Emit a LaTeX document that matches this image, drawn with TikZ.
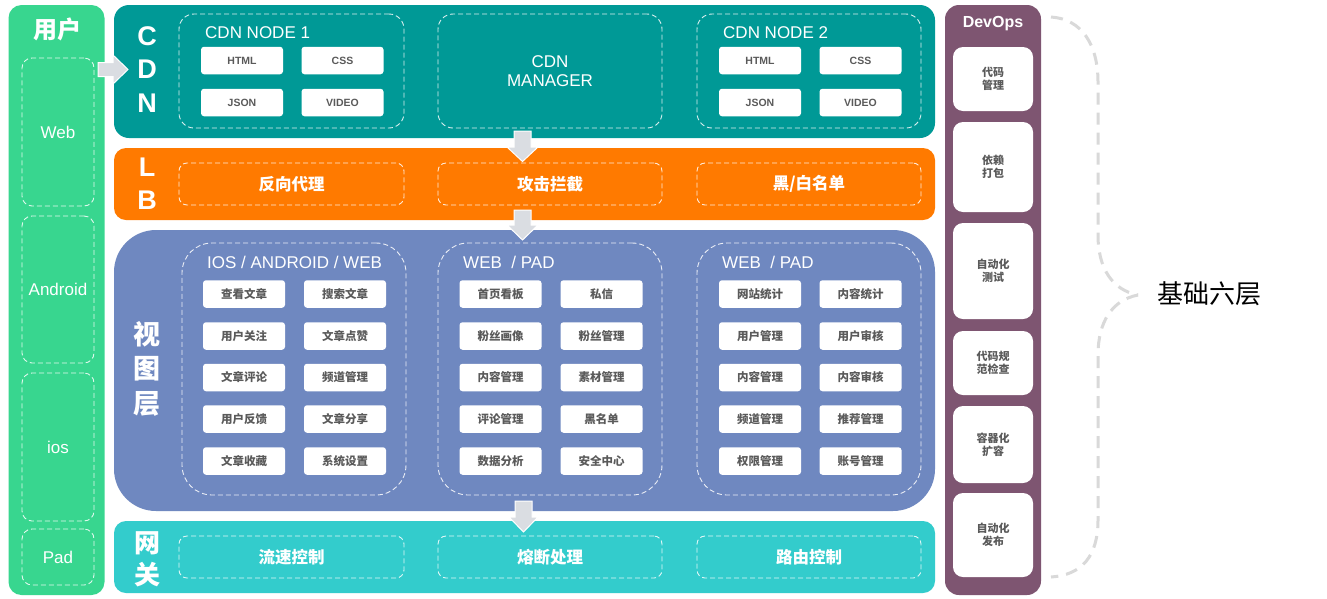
\documentclass[tikz,border=0pt]{standalone}
\usepackage{fontspec}
\setmainfont{Liberation Sans}
\newfontfamily\cjk{Noto Sans CJK SC}
\definecolor{ugreen}{HTML}{38D68F}
\definecolor{cdnteal}{HTML}{009996}
\definecolor{lborange}{HTML}{FF7A00}
\definecolor{viewblue}{HTML}{6F88C0}
\definecolor{gwcyan}{HTML}{33CCCC}
\definecolor{devpurple}{HTML}{7E5571}
\definecolor{arrowgray}{HTML}{DADDE2}
\definecolor{itemgray}{HTML}{5A5A5A}
\definecolor{bracegray}{HTML}{D9D9D9}
\tikzset{
  panel/.style={draw=none, inner sep=0pt},
  dbox/.style={draw=white, draw opacity=0.85, line width=0.9pt, dash pattern=on 5pt off 3pt, inner sep=0pt},
  item/.style={fill=white, rounded corners=3pt, inner sep=0pt, minimum width=82pt, minimum height=27.5pt, text=itemgray},
  cdnitem/.style={item, font=\bfseries\fontsize{10.5}{12}\selectfont},
  viewitem/.style={item, font=\cjk\bfseries\fontsize{11.5}{13}\selectfont},
  devitem/.style={fill=white, rounded corners=10pt, inner sep=0pt, minimum width=80pt, text=itemgray, align=center, font=\cjk\bfseries\fontsize{11}{13}\selectfont},
  bigletter/.style={text=white, inner sep=0pt, font=\bfseries\fontsize{27}{27}\selectfont},
  bigcjk/.style={text=white, inner sep=0pt, font=\cjk\bfseries\fontsize{27}{27}\selectfont},
  grouptitle/.style={text=white, inner sep=0pt, anchor=west, font=\fontsize{17}{20}\selectfont},
  layertext/.style={text=white, font=\cjk\bfseries\fontsize{16.5}{18}\selectfont},
  usertext/.style={text=white, font=\fontsize{17}{20}\selectfont},
  barrow/.style={fill=arrowgray, draw=white, line width=1pt},
  bracestyle/.style={draw=bracegray, line width=3pt, dash pattern=on 12pt off 8pt}
}
\begin{document}
\begin{tikzpicture}[x=1pt, y=-1pt]
\useasboundingbox (0,0) rectangle (1327,598);
\fill[white] (0,0) rectangle (1327,598);

% ---------- user column ----------
\node[panel, fill=ugreen, rounded corners=13pt, minimum width=96pt, minimum height=590pt] (user) at (56.5,300) {};
\node[text=white, inner sep=0pt, font=\cjk\bfseries\fontsize{24}{24}\selectfont] (usert) at (57,29) {用户};
\node[dbox, rounded corners=10pt, minimum width=72pt, minimum height=148pt, usertext] (web) at (58,132) {Web};
\node[dbox, rounded corners=10pt, minimum width=72pt, minimum height=147pt, usertext] (android) at (58,289.5) {Android};
\node[dbox, rounded corners=10pt, minimum width=72pt, minimum height=148pt, usertext] (ios) at (58,447) {ios};
\node[dbox, rounded corners=10pt, minimum width=72pt, minimum height=56pt, usertext] (pad) at (58,557) {Pad};

% ---------- CDN ----------
\node[panel, fill=cdnteal, rounded corners=15pt, minimum width=821pt, minimum height=133pt] (cdn) at (524.5,71.5) {};
\node[bigletter] (cdnC) at (147,36) {C};
\node[bigletter] (cdnD) at (147,69.5) {D};
\node[bigletter] (cdnN) at (147,103) {N};
\node[dbox, rounded corners=15pt, minimum width=225pt, minimum height=114pt] (node1) at (291.5,71) {};
\node[grouptitle] (node1t) at (205,33) {CDN NODE 1};
\node[cdnitem] (html1) at (242,60.5) {HTML};
\node[cdnitem] (css1) at (342.5,60.5) {CSS};
\node[cdnitem] (json1) at (242,102.5) {JSON};
\node[cdnitem] (video1) at (342.5,102.5) {VIDEO};
\node[dbox, rounded corners=15pt, minimum width=224pt, minimum height=114pt, text=white, align=center, font=\fontsize{17}{19}\selectfont] (manager) at (550,71) {CDN\\MANAGER};
\node[dbox, rounded corners=15pt, minimum width=224pt, minimum height=114pt] (node2) at (809,71) {};
\node[grouptitle] (node2t) at (723,33) {CDN NODE 2};
\node[cdnitem] (html2) at (760,60.5) {HTML};
\node[cdnitem] (css2) at (860.5,60.5) {CSS};
\node[cdnitem] (json2) at (760,102.5) {JSON};
\node[cdnitem] (video2) at (860.5,102.5) {VIDEO};

% ---------- LB ----------
\node[panel, fill=lborange, rounded corners=12pt, minimum width=821pt, minimum height=72pt] (lb) at (524.5,184) {};
\node[bigletter] (lbL) at (147,167) {L};
\node[bigletter] (lbB) at (147,200.5) {B};
\node[dbox, rounded corners=8pt, minimum width=225pt, minimum height=42pt, layertext] (proxy) at (291.5,184) {反向代理};
\node[dbox, rounded corners=8pt, minimum width=224pt, minimum height=42pt, layertext] (attack) at (550,184) {攻击拦截};
\node[dbox, rounded corners=8pt, minimum width=224pt, minimum height=42pt, layertext] (blacklist) at (809,184) {黑/白名单};

% ---------- view layer ----------
\node[panel, fill=viewblue, rounded corners=42pt, minimum width=821pt, minimum height=281pt] (view) at (524.5,370.5) {};
\node[bigcjk] (v1) at (147,334) {视};
\node[bigcjk] (v2) at (147,369) {图};
\node[bigcjk] (v3) at (147,403.5) {层};
\node[dbox, rounded corners=30pt, minimum width=224pt, minimum height=252pt] (g1) at (294,369) {};
\node[dbox, rounded corners=30pt, minimum width=224pt, minimum height=252pt] (g2) at (550,369) {};
\node[dbox, rounded corners=30pt, minimum width=224pt, minimum height=252pt] (g3) at (809,369) {};
\node[grouptitle] (g1t) at (207,262) {IOS / ANDROID / WEB};
\node[grouptitle] (g2t) at (463,262) {WEB\ \ / PAD};
\node[grouptitle] (g3t) at (722,262) {WEB\ \ / PAD};
% group 1
\node[viewitem] (a11) at (244,294) {查看文章};
\node[viewitem] (a12) at (345,294) {搜索文章};
\node[viewitem] (a21) at (244,336) {用户关注};
\node[viewitem] (a22) at (345,336) {文章点赞};
\node[viewitem] (a31) at (244,377.5) {文章评论};
\node[viewitem] (a32) at (345,377.5) {频道管理};
\node[viewitem] (a41) at (244,419) {用户反馈};
\node[viewitem] (a42) at (345,419) {文章分享};
\node[viewitem] (a51) at (244,461) {文章收藏};
\node[viewitem] (a52) at (345,461) {系统设置};
% group 2
\node[viewitem] (b11) at (500.5,294) {首页看板};
\node[viewitem] (b12) at (601.5,294) {私信};
\node[viewitem] (b21) at (500.5,336) {粉丝画像};
\node[viewitem] (b22) at (601.5,336) {粉丝管理};
\node[viewitem] (b31) at (500.5,377.5) {内容管理};
\node[viewitem] (b32) at (601.5,377.5) {素材管理};
\node[viewitem] (b41) at (500.5,419) {评论管理};
\node[viewitem] (b42) at (601.5,419) {黑名单};
\node[viewitem] (b51) at (500.5,461) {数据分析};
\node[viewitem] (b52) at (601.5,461) {安全中心};
% group 3
\node[viewitem] (c11) at (760,294) {网站统计};
\node[viewitem] (c12) at (860.5,294) {内容统计};
\node[viewitem] (c21) at (760,336) {用户管理};
\node[viewitem] (c22) at (860.5,336) {用户审核};
\node[viewitem] (c31) at (760,377.5) {内容管理};
\node[viewitem] (c32) at (860.5,377.5) {内容审核};
\node[viewitem] (c41) at (760,419) {频道管理};
\node[viewitem] (c42) at (860.5,419) {推荐管理};
\node[viewitem] (c51) at (760,461) {权限管理};
\node[viewitem] (c52) at (860.5,461) {账号管理};

% ---------- gateway ----------
\node[panel, fill=gwcyan, rounded corners=12pt, minimum width=821pt, minimum height=72pt] (gw) at (524.5,557) {};
\node[bigcjk, font=\cjk\bfseries\fontsize{26}{26}\selectfont] (gw1) at (147,543.5) {网};
\node[bigcjk, font=\cjk\bfseries\fontsize{26}{26}\selectfont] (gw2) at (147,575) {关};
\node[dbox, rounded corners=8pt, minimum width=225pt, minimum height=42pt, layertext] (flow) at (291.5,557) {流速控制};
\node[dbox, rounded corners=8pt, minimum width=224pt, minimum height=42pt, layertext] (fuse) at (550,557) {熔断处理};
\node[dbox, rounded corners=8pt, minimum width=224pt, minimum height=42pt, layertext] (route) at (809,557) {路由控制};

% ---------- block arrows ----------
\draw[barrow] (98,62.5) -- (113,62.5) -- (113,55) -- (128,69.5) -- (113,84) -- (113,76.5) -- (98,76.5) -- cycle;
\draw[barrow] (514,131) -- (531,131) -- (531,147) -- (538,147) -- (522.5,161.5) -- (507,147) -- (514,147) -- cycle;
\draw[barrow] (514,210) -- (531,210) -- (531,225) -- (538,225) -- (522.5,240) -- (507,225) -- (514,225) -- cycle;
\draw[barrow] (515,501) -- (532,501) -- (532,517) -- (538,517) -- (523.5,532) -- (509,517) -- (515,517) -- cycle;

% ---------- DevOps ----------
\node[panel, fill=devpurple, rounded corners=14pt, minimum width=96pt, minimum height=590pt] (devops) at (993,300) {};
\node[text=white, inner sep=0pt, font=\bfseries\fontsize{16}{18}\selectfont] (devopst) at (993,24) {DevOps};
\node[devitem, minimum height=64pt] (d1) at (993,79) {代码\\管理};
\node[devitem, minimum height=90pt] (d2) at (993,167) {依赖\\打包};
\node[devitem, minimum height=96pt] (d3) at (993,271) {自动化\\测试};
\node[devitem, minimum height=64pt] (d4) at (993,363) {代码规\\范检查};
\node[devitem, minimum height=77pt] (d5) at (993,444.5) {容器化\\扩容};
\node[devitem, minimum height=84pt] (d6) at (993,535) {自动化\\发布};

% ---------- brace ----------
\coordinate (bracetop) at (1051,17);
\coordinate (bracetip) at (1138,295);
\coordinate (bracebot) at (1051,577);
\draw[bracestyle] (bracetop) .. controls (1082,19) and (1098,45) .. (1098,82) -- (1098,235) .. controls (1098,268) and (1112,290) .. (bracetip);
\draw[bracestyle] (bracetip) .. controls (1112,300) and (1098,322) .. (1098,355) -- (1098,520) .. controls (1098,556) and (1082,575) .. (bracebot);
\node[anchor=west, inner sep=0pt, text=black, font=\cjk\fontsize{26}{26}\selectfont] (six) at (1157,294) {基础六层};
\end{tikzpicture}
\end{document}
